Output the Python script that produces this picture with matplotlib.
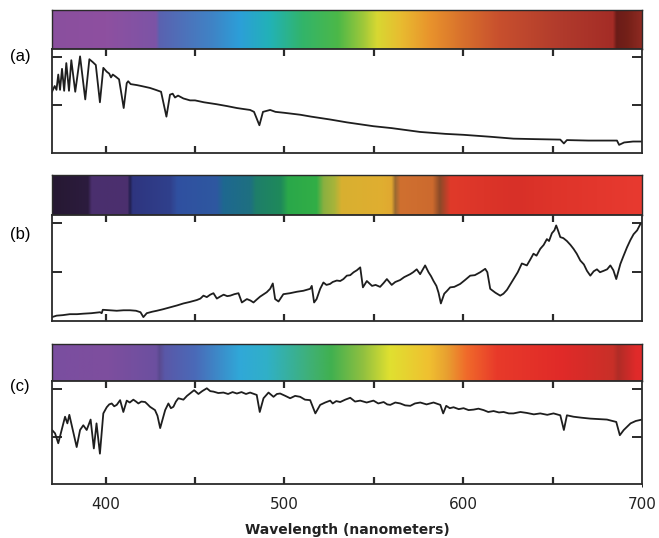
import numpy as np
import matplotlib
matplotlib.use("Agg")
import matplotlib.pyplot as plt
from matplotlib.colors import to_rgb

# ---- spectrum (a): hot star, strong Balmer lines
wl_a = [370.0, 371.5, 372.5, 373.5, 374.5, 375.6, 376.8, 378.0, 379.5, 380.8, 383.0, 385.7,
        388.6, 390.9, 392.8, 394.5, 396.8, 398.7, 400.6, 402.0, 403.0, 404.0, 405.5, 407.5,
        410.1, 411.8, 412.6, 414.0, 417.4, 420.0, 424.8, 428.0, 431.0, 434.0, 436.0, 437.5,
        438.8, 440.5, 443.5, 447.2, 450.0, 455.0, 462.0, 468.0, 473.4, 477.0, 480.8, 483.0,
        486.0, 488.0, 490.0, 492.0, 495.0, 500.0, 508.8, 515.0, 525.6, 535.0, 549.8, 560.0,
        575.9, 590.0, 600.2, 615.0, 628.1, 640.0, 654.3, 656.3, 658.0, 670.0, 686.0, 687.2,
        690.0, 695.0, 700.0]
flux_a = [0.64, 0.70, 0.66, 0.82, 0.66, 0.88, 0.65, 0.94, 0.65, 0.97, 0.64, 1.01,
          0.56, 0.98, 0.95, 0.92, 0.53, 0.89, 0.85, 0.83, 0.79, 0.82, 0.80, 0.77,
          0.47, 0.73, 0.75, 0.72, 0.71, 0.70, 0.68, 0.66, 0.64, 0.38, 0.61, 0.62,
          0.58, 0.60, 0.57, 0.55, 0.55, 0.53, 0.51, 0.49, 0.47, 0.46, 0.45, 0.43,
          0.29, 0.43, 0.44, 0.45, 0.43, 0.42, 0.40, 0.38, 0.35, 0.32, 0.28, 0.26,
          0.22, 0.20, 0.19, 0.17, 0.15, 0.145, 0.14, 0.10, 0.135, 0.13, 0.13, 0.085,
          0.11, 0.12, 0.12]

# ---- spectrum (b): cool star, molecular bands
wl_b = [370.0, 372.6, 376.0, 380.0, 384.0, 387.5, 392.0, 396.9, 397.8, 398.4, 402.0, 406.2,
        410.0, 413.7, 417.0, 419.5, 421.1, 423.0, 426.0, 428.6, 432.0, 436.0, 440.0, 443.5,
        447.0, 451.0, 453.0, 454.7, 456.6, 458.5, 460.3, 462.2, 464.0, 466.0, 468.0, 469.7,
        472.0, 474.3, 476.2, 479.0, 481.0, 482.7, 484.5, 486.4, 490.1, 492.0, 493.5, 494.8,
        496.7, 499.4, 503.1, 507.0, 510.6, 514.4, 515.3, 516.6, 518.0, 520.0, 521.8, 523.5,
        525.5, 527.0, 529.3, 531.2, 533.0, 534.9, 536.8, 538.7, 540.5, 542.4, 543.9, 546.1,
        549.0, 551.0, 553.5, 555.5, 557.3, 560.0, 562.0, 564.7, 567.0, 570.3, 572.0, 574.0,
        575.9, 578.7, 580.6, 582.0, 583.4, 585.0, 586.2, 587.5, 589.4, 591.0, 592.7, 595.0,
        598.3, 601.0, 603.9, 606.5, 609.5, 612.3, 613.5, 615.1, 618.0, 620.7, 622.5, 624.5,
        626.5, 628.1, 630.5, 632.8, 635.6, 637.5, 639.3, 641.0, 643.1, 645.0, 646.8, 648.0,
        649.6, 651.0, 652.0, 653.0, 654.3, 656.0, 658.0, 660.0, 661.7, 663.5, 665.5, 667.5,
        669.2, 671.1, 673.0, 674.8, 676.5, 678.6, 680.5, 682.3, 684.0, 685.6, 687.9, 689.5,
        691.6, 693.5, 695.3, 697.3, 699.1, 700.0]
flux_b = [0.04, 0.055, 0.06, 0.07, 0.07, 0.075, 0.08, 0.09, 0.08, 0.115, 0.11, 0.105,
          0.11, 0.11, 0.105, 0.09, 0.04, 0.08, 0.095, 0.105, 0.12, 0.14, 0.16, 0.18,
          0.195, 0.215, 0.23, 0.26, 0.245, 0.27, 0.285, 0.23, 0.25, 0.27, 0.255, 0.26,
          0.275, 0.285, 0.19, 0.225, 0.21, 0.19, 0.22, 0.25, 0.295, 0.33, 0.385, 0.225,
          0.20, 0.275, 0.285, 0.30, 0.31, 0.33, 0.36, 0.19, 0.225, 0.33, 0.395, 0.37,
          0.38, 0.40, 0.415, 0.41, 0.43, 0.465, 0.47, 0.50, 0.52, 0.55, 0.345, 0.41,
          0.36, 0.37, 0.35, 0.39, 0.43, 0.37, 0.40, 0.42, 0.45, 0.48, 0.50, 0.53,
          0.48, 0.57, 0.50, 0.46, 0.41, 0.36, 0.29, 0.18, 0.28, 0.31, 0.345, 0.35,
          0.38, 0.42, 0.465, 0.47, 0.50, 0.535, 0.50, 0.33, 0.29, 0.26, 0.28, 0.32,
          0.38, 0.43, 0.50, 0.59, 0.57, 0.63, 0.69, 0.67, 0.74, 0.78, 0.84, 0.82,
          0.90, 0.93, 0.98, 0.93, 0.86, 0.85, 0.82, 0.78, 0.74, 0.69, 0.62, 0.58,
          0.515, 0.465, 0.51, 0.53, 0.50, 0.515, 0.53, 0.57, 0.52, 0.43, 0.585, 0.66,
          0.755, 0.83, 0.89, 0.93, 0.995, 1.0]

# ---- spectrum (c): sun-like star
wl_c = [370.0, 371.7, 373.5, 375.4, 377.3, 378.6, 379.7, 381.6, 383.8, 385.7, 387.5, 389.4,
        391.6, 393.4, 394.9, 396.8, 398.7, 400.6, 402.0, 403.4, 404.8, 406.2, 408.1, 409.9,
        411.8, 413.5, 415.5, 417.0, 418.3, 420.0, 422.1, 423.5, 424.8, 427.6, 429.0, 430.5,
        433.3, 435.1, 436.5, 437.9, 439.3, 440.7, 443.5, 445.5, 447.2, 449.5, 451.9, 454.0,
        456.6, 458.5, 460.3, 463.0, 465.9, 468.5, 471.0, 473.4, 476.0, 478.5, 480.8, 484.5,
        486.2, 488.3, 491.1, 493.9, 495.8, 497.6, 500.5, 503.2, 506.0, 508.8, 511.5, 514.4,
        517.3, 520.0, 522.8, 525.6, 527.0, 529.0, 531.2, 534.0, 536.8, 539.5, 542.4, 546.0,
        549.8, 552.5, 555.5, 557.5, 559.2, 562.0, 564.8, 567.5, 570.4, 573.0, 576.0, 579.5,
        583.4, 587.2, 588.8, 590.5, 592.5, 594.6, 597.5, 600.2, 603.0, 605.8, 608.5, 611.4,
        614.0, 617.0, 620.0, 622.6, 625.5, 628.1, 632.0, 635.6, 639.5, 643.1, 647.0, 650.5,
        654.3, 656.3, 658.0, 661.7, 666.0, 671.1, 676.0, 680.4, 685.6, 687.6, 689.8, 693.6,
        696.5, 700.0]
flux_c = [0.57, 0.535, 0.43, 0.57, 0.71, 0.64, 0.73, 0.57, 0.39, 0.57, 0.62, 0.57,
          0.68, 0.375, 0.64, 0.32, 0.745, 0.81, 0.84, 0.85, 0.82, 0.835, 0.885, 0.76,
          0.88, 0.86, 0.89, 0.87, 0.85, 0.87, 0.865, 0.84, 0.815, 0.78, 0.72, 0.59,
          0.78, 0.85, 0.80, 0.815, 0.87, 0.905, 0.89, 0.93, 0.955, 0.99, 0.95, 0.98,
          1.01, 0.98, 0.975, 0.96, 0.965, 0.95, 0.97, 0.955, 0.97, 0.95, 0.965, 0.94,
          0.76, 0.905, 0.965, 0.92, 0.95, 0.955, 0.93, 0.905, 0.93, 0.92, 0.89, 0.885,
          0.745, 0.835, 0.86, 0.88, 0.85, 0.875, 0.865, 0.89, 0.91, 0.87, 0.88, 0.86,
          0.88, 0.85, 0.865, 0.84, 0.835, 0.86, 0.85, 0.83, 0.825, 0.85, 0.86, 0.84,
          0.86, 0.835, 0.745, 0.825, 0.80, 0.81, 0.79, 0.80, 0.78, 0.785, 0.795, 0.78,
          0.76, 0.77, 0.755, 0.76, 0.745, 0.745, 0.76, 0.75, 0.735, 0.745, 0.73, 0.745,
          0.725, 0.57, 0.725, 0.71, 0.70, 0.69, 0.685, 0.68, 0.655, 0.515, 0.57, 0.64,
          0.665, 0.68]

# ---- colour strips above each spectrum: (wavelength, colour) stops
strip_a = [(370, "#8a4f9e"), (400, "#8e50a0"), (428, "#7c54a6"), (430, "#5a62b0"),
           (460, "#3f84c6"), (475, "#2c9fd8"), (492, "#22b2b6"), (510, "#32b46a"),
           (530, "#4cb848"), (544, "#9ec83a"), (552, "#d8d832"), (565, "#e8bc30"),
           (582, "#e8922c"), (600, "#d8702c"), (620, "#c8502e"), (656, "#b03a2c"),
           (684, "#a42c26"), (686, "#6b1c18"), (692, "#742018"), (700, "#8e2a22")]
strip_b = [(370, "#261832"), (390, "#2c1c3e"), (392, "#4a2f6e"), (412, "#4c306e"),
           (413.5, "#222050"), (415, "#2e3580"), (436, "#30408c"), (440, "#3050a0"),
           (462, "#2e58a0"), (466, "#1e6890"), (481, "#1e7080"), (484, "#1e7e6a"),
           (498, "#1f8a5a"), (502, "#2aa84a"), (518, "#32ae46"), (522, "#8ab040"),
           (528, "#a8b43a"), (532, "#d8b030"), (555, "#e0ae30"), (560, "#e0a830"),
           (562, "#9a6a30"), (565, "#d07030"), (583, "#cc6a2e"), (587, "#8a4a28"),
           (593, "#e03a2a"), (630, "#d83028"), (650, "#de342a"), (700, "#e83a30")]
strip_c = [(370, "#7a4ea0"), (400, "#7e4e9e"), (428, "#6c50a0"), (430, "#5a4a90"),
           (433, "#5a58a8"), (450, "#4a6ab8"), (475, "#30a8d8"), (490, "#30b0c8"),
           (516, "#40b070"), (526, "#40b050"), (544, "#90c040"), (559, "#e0e030"),
           (581, "#f0c030"), (591, "#e8a030"), (602, "#f06a2a"), (619, "#e83a2a"),
           (656, "#e02a28"), (684, "#c83028"), (687, "#b02c26"), (697, "#e02a2a"),
           (700, "#e02a2a")]

panel_labels = ["(a)", "(b)", "(c)"]
xtick_major = [400, 500, 600, 700]
xtick_minor = [400, 450, 500, 550, 600, 650]
ytick_vals = [0.5, 1.0]


def strip_image(stops):
    w = np.linspace(370, 700, 700)
    pos = [s[0] for s in stops]
    rgb = np.array([to_rgb(s[1]) for s in stops])
    img = np.stack([np.interp(w, pos, rgb[:, k]) for k in range(3)], axis=-1)
    return img[np.newaxis, :, :]


fig = plt.figure(figsize=(6.59, 5.38), dpi=100)
H = 538.0
W = 659.0
left = 52 / W
width = 590 / W
# (strip top, strip bottom / plot top, plot bottom) in pixels
rows = [(10, 49, 153), (175, 215, 321), (344, 381, 484)]
label_y = [57, 235, 386]

spectra = [(wl_a, flux_a, strip_a), (wl_b, flux_b, strip_b), (wl_c, flux_c, strip_c)]
edge = "#2a2a2a"

for i, ((wl, fl, stops), (t, m, b)) in enumerate(zip(spectra, rows)):
    ax_s = fig.add_axes([left, (H - m) / H, width, (m - t) / H])
    ax_s.imshow(strip_image(stops), aspect="auto", extent=[370, 700, 0, 1])
    ax_s.set_xticks([])
    ax_s.set_yticks([])
    for sp in ax_s.spines.values():
        sp.set_color(edge)
        sp.set_linewidth(1.0)

    ax = fig.add_axes([left, (H - b) / H, width, (b - m) / H])
    ax.plot(wl, fl, color="#1e1e1e", linewidth=1.3)
    ax.set_xlim(370, 700)
    ax.set_ylim(0, 1.087)
    ax.set_xticks(xtick_minor)
    ax.set_yticks(ytick_vals)
    ax.tick_params(axis="x", direction="in", length=5, width=1.6, top=True, bottom=True,
                   colors=edge, labelbottom=False)
    ax.tick_params(axis="y", direction="in", length=7, width=1.4, left=True, right=True,
                   colors=edge, labelleft=False)
    for sp in ax.spines.values():
        sp.set_color(edge)
        sp.set_linewidth(1.3)

    fig.text(20 / W, (H - label_y[i]) / H, panel_labels[i], fontsize=12,
             ha="center", va="center", family="Liberation Sans")

    if i == 2:
        ax.set_xticks(xtick_major, minor=True)
        for v in xtick_major:
            ax.text(v, -0.2, str(v), transform=ax.get_xaxis_transform(),
                    ha="center", va="center", fontsize=11, color="#222222")
        ax.text(0.5, -0.445, "Wavelength (nanometers)", transform=ax.transAxes,
                ha="center", va="center", fontsize=10, fontweight="bold", color="#222222")

fig.savefig("out.png", dpi=100)
